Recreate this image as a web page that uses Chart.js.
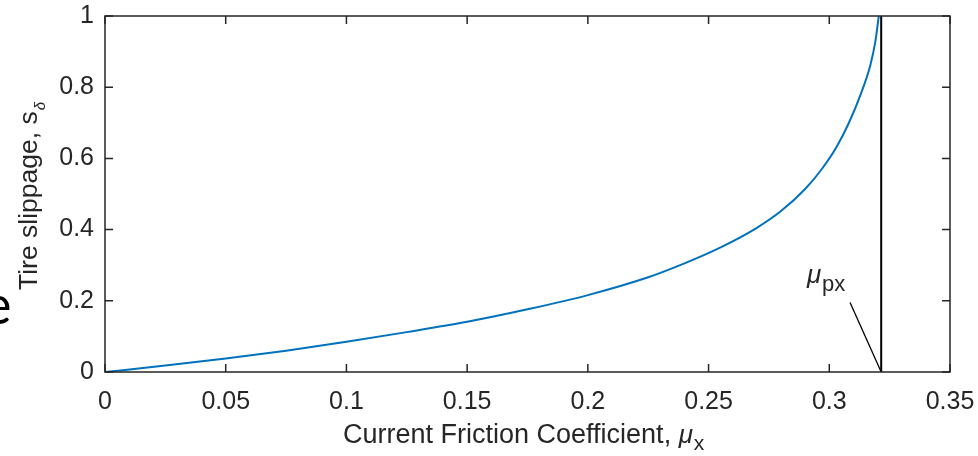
<!DOCTYPE html>
<html>
<head>
<meta charset="utf-8">
<script src="https://cdn.jsdelivr.net/npm/chart.js@4"></script>
<style>
  html, body { margin: 0; padding: 0; background: #fff; }
  .wrap { width: 978px; height: 456px; position: relative; }
</style>
</head>
<body>
<div class="wrap"><canvas id="slipChart" width="978" height="456"></canvas></div>
<script>
// values
const frictionX = [0, 0.025, 0.05, 0.075, 0.1, 0.125, 0.15, 0.175, 0.2, 0.225, 0.24, 0.255, 0.27, 0.28, 0.29, 0.297, 0.303, 0.308, 0.313, 0.317, 0.319, 0.3205]
const slipY = [0, 0.018, 0.038, 0.06, 0.085, 0.112, 0.141, 0.176, 0.216, 0.266, 0.305, 0.35, 0.405, 0.452, 0.514, 0.571, 0.632, 0.698, 0.78, 0.862, 0.925, 1.0]
const muPeak = 0.3215
const peakLine = [0, 1]
const leaderX = [0.3086, muPeak]
const leaderY = [0.195, 0]

const axisColor = '#262626'
const fontFam = "'Liberation Sans', Arial, Helvetica, sans-serif"

const boxPlugin = {
	id: 'boxPlugin',
	afterDraw(chart) {
		const ctx = chart.ctx
		const a = chart.chartArea
		const xs = chart.scales.x
		const ys = chart.scales.y
		ctx.save()
		ctx.strokeStyle = axisColor
		ctx.lineWidth = 1.5
		ctx.strokeRect(a.left, a.top, a.right - a.left, a.bottom - a.top)

		// ticks point inward, on all four sides
		const tl = 8
		ctx.beginPath()
		xs.ticks.forEach(t => {
			const px = xs.getPixelForValue(t.value)
			ctx.moveTo(px, a.bottom); ctx.lineTo(px, a.bottom - tl)
			ctx.moveTo(px, a.top); ctx.lineTo(px, a.top + tl)
		})
		ys.ticks.forEach(t => {
			const py = ys.getPixelForValue(t.value)
			ctx.moveTo(a.left, py); ctx.lineTo(a.left + tl, py)
			ctx.moveTo(a.right, py); ctx.lineTo(a.right - tl, py)
		})
		ctx.stroke()

		// x title
		ctx.fillStyle = axisColor
		ctx.textBaseline = 'alphabetic'
		ctx.textAlign = 'left'
		ctx.font = '27px ' + fontFam
		const xt = 'Current Friction Coefficient, '
		let tx = 343
		ctx.fillText(xt, tx, 443)
		tx += ctx.measureText(xt).width
		ctx.font = 'italic 26px ' + fontFam
		ctx.fillText('\u03bc', tx, 443)
		tx += ctx.measureText('\u03bc').width
		ctx.font = '21px ' + fontFam
		ctx.fillText('x', tx + 1, 450)

		// y title, rotated
		ctx.save()
		ctx.translate(37, 290)
		ctx.rotate(-Math.PI / 2)
		ctx.font = '26.5px ' + fontFam
		const yt = 'Tire slippage, s'
		ctx.fillText(yt, 0, 0)
		const w = ctx.measureText(yt).width
		ctx.font = 'italic 15px ' + fontFam
		ctx.fillText('\u03b4', w + 1, 8)
		ctx.restore()

		// peak label next to the leader line
		const lx = xs.getPixelForValue(leaderX[0])
		const ly = ys.getPixelForValue(leaderY[0])
		ctx.font = 'italic 26px ' + fontFam
		ctx.fillText('\u03bc', lx - 43, ly - 20)
		ctx.font = '22px ' + fontFam
		ctx.fillText('px', lx - 28, ly - 12)

		// cut-off letter at the left edge of the picture
		ctx.fillStyle = '#000'
		ctx.font = '54px Lato, ' + fontFam
		const m = ctx.measureText('e')
		ctx.fillText('e', 10 - m.actualBoundingBoxRight, 324)
		ctx.restore()
	},
}

new Chart(document.getElementById('slipChart'), {
	type: 'line',
	data: {
		datasets: [
			{
				data: frictionX.map((x, i) => ({ x: x, y: slipY[i] })),
				borderColor: '#0072BD',
				borderWidth: 2,
				pointRadius: 0,
				cubicInterpolationMode: 'monotone',
			},
			{
				data: peakLine.map(y => ({ x: muPeak, y: y })),
				borderColor: '#000',
				borderWidth: 2,
				pointRadius: 0,
			},
			{
				data: leaderX.map((x, i) => ({ x: x, y: leaderY[i] })),
				borderColor: '#000',
				borderWidth: 1.3,
				pointRadius: 0,
			},
		],
	},
	options: {
		responsive: false,
		animation: false,
		devicePixelRatio: 1,
		layout: { padding: { left: 0, right: 28, top: 16, bottom: 0 } },
		plugins: { legend: { display: false }, tooltip: { enabled: false } },
		scales: {
			x: {
				type: 'linear',
				min: 0,
				max: 0.35,
				grid: { display: false, drawTicks: false },
				border: { display: false },
				ticks: {
					stepSize: 0.05,
					padding: 15,
					color: axisColor,
					font: { family: fontFam, size: 25 },
					maxRotation: 0,
					callback: v => String(+v.toFixed(2)),
				},
				afterFit: s => {
					s.height = 84
					s.paddingLeft = 0
					s.paddingRight = 0
				},
			},
			y: {
				min: 0,
				max: 1,
				grid: { display: false, drawTicks: false },
				border: { display: false },
				ticks: {
					stepSize: 0.2,
					padding: 11,
					color: axisColor,
					font: { family: fontFam, size: 25 },
					callback: v => String(+v.toFixed(1)),
				},
				afterFit: s => {
					s.width = 105
					s.paddingTop = 0
					s.paddingBottom = 0
				},
			},
		},
	},
	plugins: [boxPlugin],
})
</script>
</body>
</html>
